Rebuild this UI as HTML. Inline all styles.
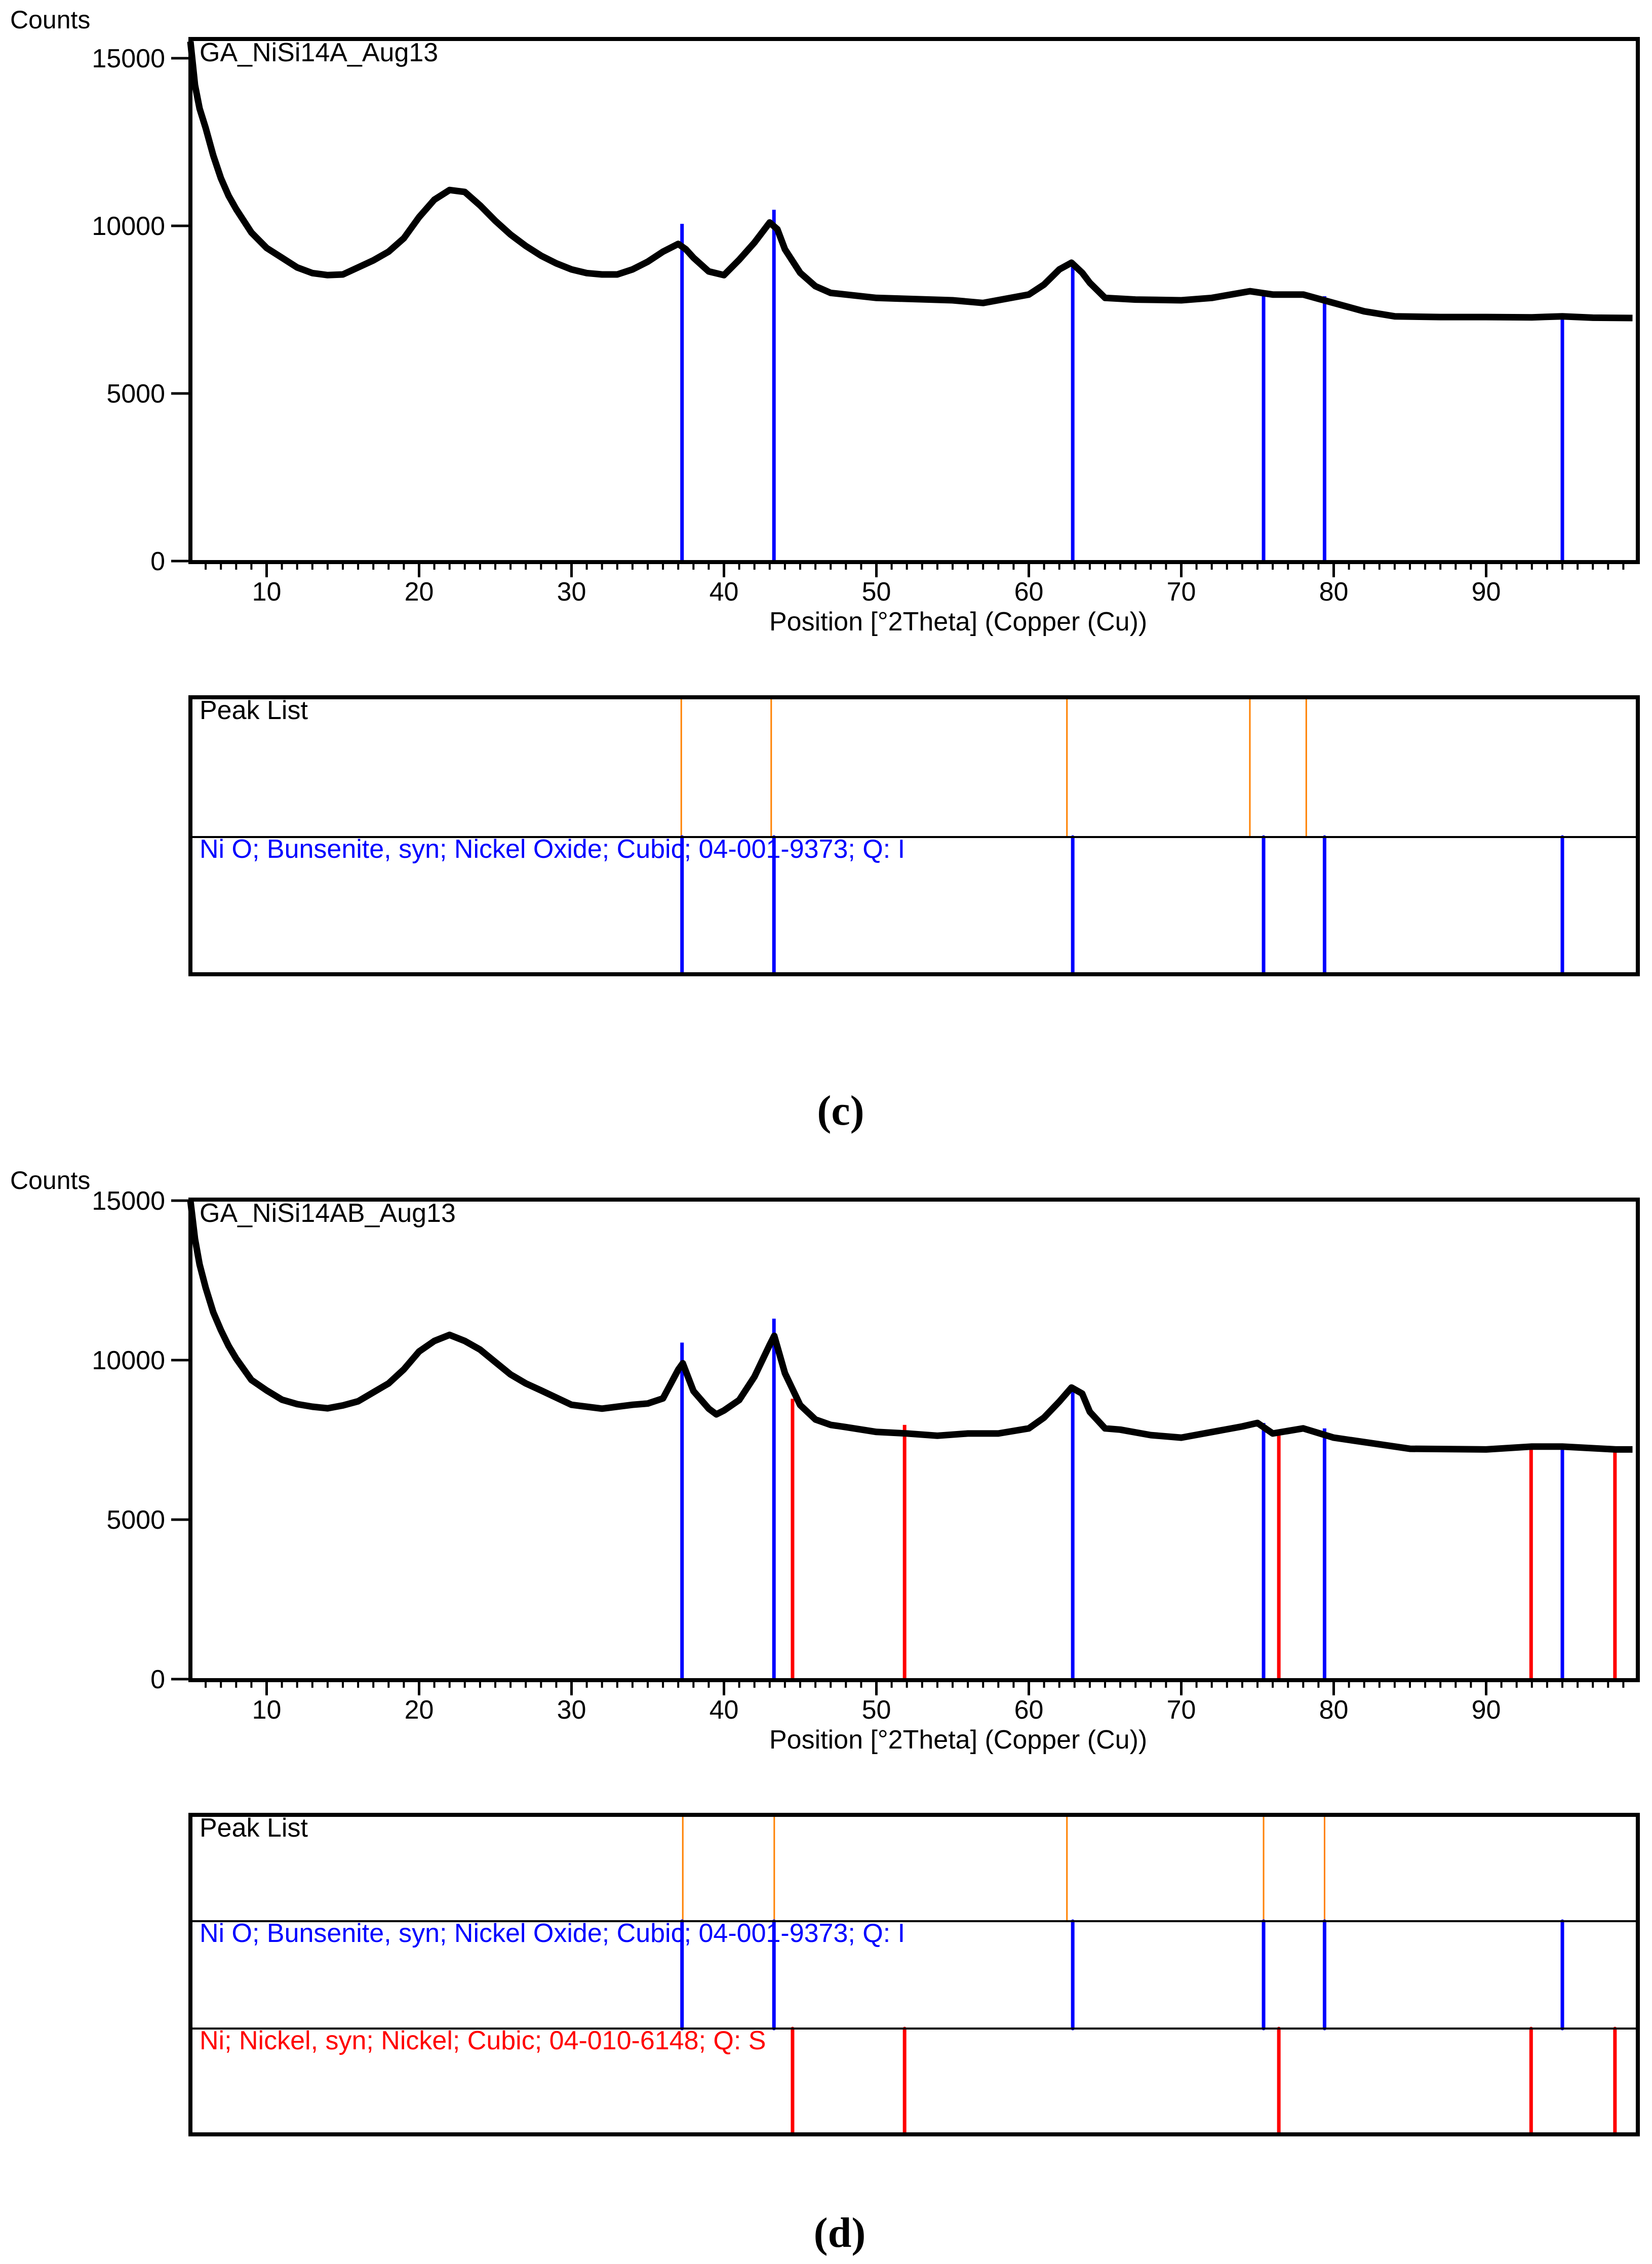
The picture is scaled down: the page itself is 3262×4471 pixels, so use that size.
<!DOCTYPE html>
<html><head><meta charset="utf-8"><style>
html,body{margin:0;padding:0;background:#fff;}
svg{display:block;}
text.sans{font-family:"Liberation Sans",Arial,sans-serif;}
text.serif{font-family:"Liberation Serif","Times New Roman",serif;}
</style></head>
<body>
<svg id="fig" width="3262" height="4471" viewBox="0 0 3262 4471" xmlns="http://www.w3.org/2000/svg"></svg>
<script>
// ---- data ----
const xTicks = [10,20,30,40,50,60,70,80,90];
const yTicks = [0,5000,10000,15000];
const nioPositions = [37.25,43.28,62.88,75.4,79.4,95.0];
const niPositions = [44.5,51.85,76.4,92.95,98.45];
const peakListC = [37.2,43.1,62.5,74.5,78.2];
const peakListD = [37.3,43.3,62.5,75.4,79.4];
const nioHeightsC = [10060,10480,8950,8000,7900,7370];
const nioHeightsD = [10550,11300,9080,8030,7860,7290];
const niHeightsD = [8790,7970,7670,7290,7200];
const scanAngleC = [5,5.3,5.6,6,6.5,7,7.5,8,9,10,11,12,13,14,15,16,17,18,19,20,21,22,23,24,25,26,27,28,29,30,31,32,33,34,35,36,37,37.5,38,39,40,41,42,43,43.5,44,45,46,47,48,50,55,57,60,61,62,62.8,63.5,64,65,67,70,72,74.5,76,78,80,82,84,87,90,93,95,97,99.6];
const countsC = [15500,14200,13500,12920,12100,11420,10900,10500,9800,9340,9050,8760,8590,8530,8550,8760,8970,9230,9630,10260,10780,11070,11010,10610,10150,9740,9400,9110,8880,8700,8590,8550,8550,8700,8930,9230,9460,9300,9050,8640,8530,8990,9500,10100,9900,9300,8600,8200,8000,7950,7850,7780,7700,7950,8250,8700,8900,8600,8300,7850,7800,7780,7850,8050,7950,7950,7700,7450,7300,7280,7280,7270,7300,7260,7250];
const scanAngleD = [5,5.3,5.6,6,6.5,7,7.5,8,9,10,11,12,13,14,15,16,17,18,19,20,21,22,23,24,25,26,27,28,30,32,34,35,36,37,37.3,38,39,39.5,40,41,42,43,43.3,44,45,46,47,48,50,52,54,56,58,60,61,62,62.8,63.5,64,65,66,68,70,74,75,76,78,80,85,90,93,95,98.5,99.6];
const countsD = [15000,13800,13000,12270,11500,10940,10450,10050,9380,9050,8760,8620,8540,8490,8580,8710,8990,9270,9710,10270,10600,10790,10600,10330,9940,9550,9270,9050,8600,8480,8600,8640,8800,9700,9900,9030,8480,8300,8420,8750,9480,10480,10760,9590,8590,8140,7970,7900,7750,7700,7630,7700,7700,7860,8200,8700,9140,8950,8380,7860,7820,7650,7570,7920,8030,7700,7860,7570,7220,7200,7290,7290,7200,7200];

const NS='http://www.w3.org/2000/svg';
const svg=document.getElementById('fig');
function el(tag,attrs,parent){const e=document.createElementNS(NS,tag);for(const k in attrs)e.setAttribute(k,attrs[k]);(parent||svg).appendChild(e);return e;}
function txt(str,attrs,parent){const e=el('text',attrs,parent);e.textContent=str;if(!attrs['class'])e.setAttribute('class','sans');return e;}

const L=376,R=3234,X0=5,PXD=30.1;
function xs(d){return L+(d-X0)*PXD;}

function drawChart(cfg){
  const g=el('g',{});
  
  
  const ys=v=>cfg.y0-v*cfg.k;
  const c=txt('Counts',{x:20,y:cfg.top-21,'font-size':50,fill:'#000'},g);
  
  yTicks.forEach(v=>{
    const y=ys(v);
    el('line',{x1:L-38,x2:L,y1:y,y2:y,stroke:'#000','stroke-width':5},g);
    const t=txt(String(v),{x:L-50,y:y+18,'font-size':52,'text-anchor':'end',fill:'#000'},g);
    
  });
  for(let d=6;d<=99;d++){
    const x=xs(d);const major=xTicks.includes(d);
    el('line',{x1:x,x2:x,y1:cfg.bottom,y2:cfg.bottom+(major?30:15),stroke:'#000','stroke-width':major?5:4},g);
  }
  xTicks.forEach(d=>{
    const t=txt(String(d),{x:xs(d),y:cfg.bottom+76,'font-size':52,'text-anchor':'middle',fill:'#000'},g);
    
  });
  const xl=txt('Position [°2Theta] (Copper (Cu))',{x:1519,y:cfg.bottom+135,'font-size':52,fill:'#000'},g);
  
  cfg.sticks.forEach(s=>{
    s.pos.forEach((p,i)=>{
      const ln=el('line',{x1:xs(p),x2:xs(p),y1:cfg.bottom,y2:ys(s.h[i]),stroke:s.color,'stroke-width':7},g);
      
      
    });
  });
  const pts=cfg.xs.map((d,i)=>xs(d).toFixed(1)+','+ys(cfg.ys[i]).toFixed(1)).join(' ');
  const pl=el('polyline',{points:pts,fill:'none',stroke:'#000','stroke-width':13,'stroke-linejoin':'round'},g);
  
  
  const fr=el('rect',{x:L,y:cfg.top,width:R-L,height:cfg.bottom-cfg.top,fill:'none',stroke:'#000','stroke-width':8},g);
  
  const tt=txt(cfg.title,{x:394,y:cfg.top+44,'font-size':52,fill:'#000'},g);
  
}

function drawPanel(cfg){
  const g=el('g',{});
  
  
  cfg.rows.forEach((r,i)=>{
    r.pos.forEach(p=>{
      const ln=el('line',{x1:xs(p),x2:xs(p),y1:r.y1,y2:r.y2,stroke:r.color,'stroke-width':r.w,'stroke-linecap':'round'},g);
      
      
    });
    if(i>0){const dv=el('line',{x1:L,x2:R,y1:r.y1,y2:r.y1,stroke:'#000','stroke-width':4},g);
      }
    const t=txt(r.text,{x:394,y:r.y1+(i==0?43:41),'font-size':52,fill:r.textColor},g);
    
  });
  const fr=el('rect',{x:L,y:cfg.top,width:R-L,height:cfg.bottom-cfg.top,fill:'none',stroke:'#000','stroke-width':8},g);
  
}

const nioText='Ni O; Bunsenite, syn; Nickel Oxide; Cubic; 04-001-9373; Q: I';
const niText='Ni; Nickel, syn; Nickel; Cubic; 04-010-6148; Q: S';

drawChart({name:'chart-c',top:77,bottom:1110,y0:1108,k:0.0662,title:'GA_NiSi14A_Aug13',xs:scanAngleC,ys:countsC,
  sticks:[{pos:nioPositions,h:nioHeightsC,color:'#0000ff',label:'nio'}]});
drawPanel({name:'peak-panel-c',top:1377,bottom:1924,rows:[
  {y1:1377,y2:1653,pos:peakListC,color:'#ff8000',w:3,text:'Peak List',textColor:'#000',label:'peak-list'},
  {y1:1653,y2:1924,pos:nioPositions,color:'#0000ff',w:7,text:nioText,textColor:'#0000ff',label:'nio'}]});
const cc=txt('(c)',{x:1660,y:2221,'font-size':84,'font-weight':'bold','text-anchor':'middle','class':'serif',fill:'#000'});


drawChart({name:'chart-d',top:2369,bottom:3318,y0:3316,k:0.063,title:'GA_NiSi14AB_Aug13',xs:scanAngleD,ys:countsD,
  sticks:[{pos:nioPositions,h:nioHeightsD,color:'#0000ff',label:'nio'},{pos:niPositions,h:niHeightsD,color:'#ff0000',label:'ni'}]});
drawPanel({name:'peak-panel-d',top:3584,bottom:4215,rows:[
  {y1:3584,y2:3794,pos:peakListD,color:'#ff8000',w:3,text:'Peak List',textColor:'#000',label:'peak-list'},
  {y1:3794,y2:4006,pos:nioPositions,color:'#0000ff',w:7,text:nioText,textColor:'#0000ff',label:'nio'},
  {y1:4006,y2:4215,pos:niPositions,color:'#ff0000',w:7,text:niText,textColor:'#ff0000',label:'ni'}]});
const cd=txt('(d)',{x:1658,y:4437,'font-size':84,'font-weight':'bold','text-anchor':'middle','class':'serif',fill:'#000'});

</script>
</body></html>
